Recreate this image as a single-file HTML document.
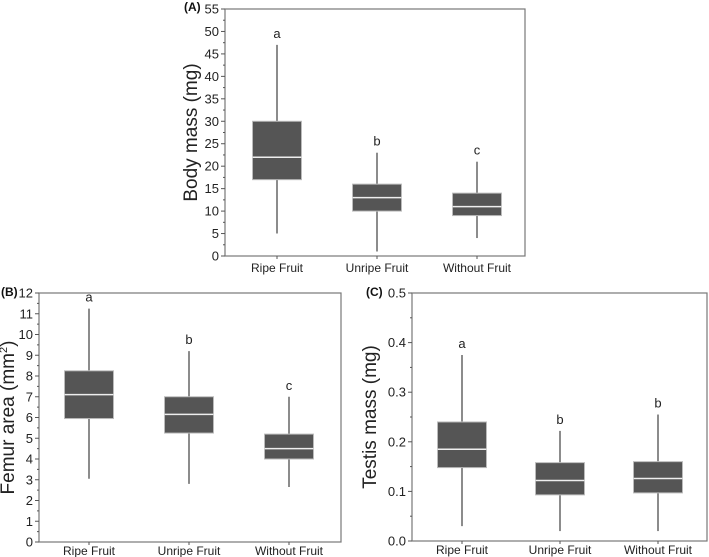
<!DOCTYPE html>
<html><head><meta charset="utf-8"><style>
body{margin:0;background:#fff;}
svg{display:block;font-family:"Liberation Sans",Arial,sans-serif;}
</style></head><body>
<svg id="c" width="709" height="557" viewBox="0 0 709 557"></svg>
<script>
const categories = ["Ripe Fruit","Unripe Fruit","Without Fruit"];
// [min, q1, median, q3, max]
const bodyMass = [[5,17,22,30,47],[1,10,13,16,23],[4,9,11,14,21]];
const femurArea = [[3.05,5.95,7.1,8.25,11.25],[2.8,5.25,6.15,7.0,9.2],[2.65,4.0,4.5,5.2,7.0]];
const testisMass = [[0.03,0.148,0.185,0.24,0.375],[0.02,0.093,0.122,0.158,0.222],[0.02,0.097,0.126,0.16,0.255]];
const lettersA = ["a","b","c"];
const lettersB = ["a","b","c"];
const lettersC = ["a","b","b"];
const ticksA = [0,5,10,15,20,25,30,35,40,45,50,55];
const ticksB = [0,1,2,3,4,5,6,7,8,9,10,11,12];
const ticksC = [0.0,0.1,0.2,0.3,0.4,0.5];

const svg = document.getElementById('c');
const NS = 'http://www.w3.org/2000/svg';
function mk(tag, attrs, parent){
  const e = document.createElementNS(NS, tag);
  for (const k in attrs) e.setAttribute(k, attrs[k]);
  (parent||svg).appendChild(e);
  return e;
}
function panel(p){
  const g = mk('g', {});
  
  
  const y = v => p.bottom - (v - p.ymin) / (p.ymax - p.ymin) * (p.bottom - p.top);
  const xs = i => p.centers[i];
  const frame = mk('rect', {x:p.left, y:p.top, width:p.right-p.left, height:p.bottom-p.top, fill:'none', stroke:'#777', 'stroke-width':1.2}, g);
  
  
  p.ticks.forEach((t, i) => {
    const yy = y(t);
    mk('line', {x1:p.left-4, x2:p.left, y1:yy, y2:yy, stroke:'#555'}, g);
    const tx = mk('text', {x:p.left-6, y:yy+4.5, 'text-anchor':'end', 'font-size':13, fill:'#222'}, g);
    tx.textContent = p.fmt(t);
    
    
    if (i < p.ticks.length - 1) {
      const m = y((t + p.ticks[i+1]) / 2);
      mk('line', {x1:p.left-2, x2:p.left, y1:m, y2:m, stroke:'#555'}, g);
    }
  });
  categories.forEach((c, i) => {
    mk('line', {x1:xs(i), x2:xs(i), y1:p.bottom, y2:p.bottom+3, stroke:'#555'}, g);
    const tx = mk('text', {x:xs(i), y:p.bottom+p.xlOff, 'text-anchor':'middle', 'font-size':12, fill:'#222'}, g);
    tx.textContent = c;
    
    
  });
  p.data.forEach((d, i) => {
    const cx = xs(i), w = 49;
    const wh = mk('line', {x1:cx, x2:cx, y1:y(d[0]), y2:y(d[4]), stroke:'#666', 'stroke-width':1.5}, g);
    
    
    const bx = mk('rect', {x:cx-w/2, y:y(d[3]), width:w, height:y(d[1])-y(d[3]), fill:'#555', stroke:'#bbb', 'stroke-width':1}, g);
    
    
    const md = mk('line', {x1:cx-w/2, x2:cx+w/2, y1:y(d[2]), y2:y(d[2]), stroke:'#eee', 'stroke-width':1.5}, g);
    
    
    const lt = mk('text', {x:cx, y:y(d[4])-7, 'text-anchor':'middle', 'font-size':13, fill:'#222'}, g);
    lt.textContent = p.letters[i];
    
    
  });
  const yl = mk('text', {x:0, y:0, 'text-anchor':'middle', 'font-size':19, fill:'#222', transform:`translate(${p.ylabX},${(p.top+p.bottom)/2}) rotate(-90)`}, g);
  yl.innerHTML = p.ylab;
  
  
  const pl = mk('text', {x:p.plx, y:p.ply, 'font-size':12, 'font-weight':'bold', fill:'#111'}, g);
  pl.textContent = p.tag;
  
  
}
panel({id:'a', left:225, right:525, top:9, bottom:256, ymin:0, ymax:55, ticks:ticksA, fmt:v=>String(v), xlOff:16,
  centers:[277,377,477], data:bodyMass, letters:lettersA, ylab:'Body mass (mg)', ylabX:197, tag:'(A)', plx:184, ply:11});
panel({id:'b', left:39, right:341, top:293, bottom:542, ymin:0, ymax:12, ticks:ticksB, fmt:v=>String(v), xlOff:13,
  centers:[89,189,289], data:femurArea, letters:lettersB, ylab:'Femur area (mm<tspan dy="-7" font-size="11">2</tspan><tspan dy="7">)</tspan>', ylabX:14, tag:'(B)', plx:1, ply:296});
panel({id:'c', left:412, right:707, top:293, bottom:541, ymin:0, ymax:0.5, ticks:ticksC, fmt:v=>v.toFixed(1), xlOff:13,
  centers:[462,560,658], data:testisMass, letters:lettersC, ylab:'Testis mass (mg)', ylabX:376, tag:'(C)', plx:366, ply:296});
</script>
</body></html>
